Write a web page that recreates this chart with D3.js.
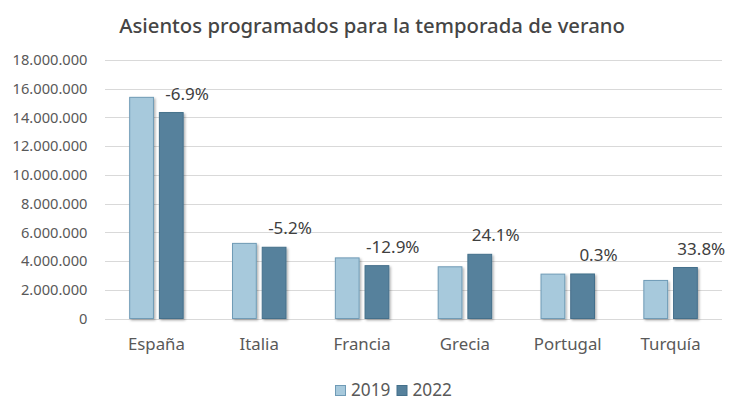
<!DOCTYPE html>
<html><head><meta charset="utf-8">
<script src="https://cdn.jsdelivr.net/npm/d3@7"></script>
<style>body{margin:0;background:#fff}svg{display:block}</style>
</head><body>
<svg id="c" width="740" height="410"></svg>
<script>
const categories = ["España","Italia","Francia","Grecia","Portugal","Turquía"];
const seriesNames = ["2019","2022"];
const values2019 = [15400000, 5230000, 4220000, 3600000, 3090000, 2650000];
const values2022 = [14340000, 4960000, 3680000, 4470000, 3100000, 3550000];
const changeLabels = ["-6.9%","-5.2%","-12.9%","24.1%","0.3%","33.8%"];
const yTicks = [0,2000000,4000000,6000000,8000000,10000000,12000000,14000000,16000000,18000000];
const title = "Asientos programados para la temporada de verano";

const colors = {"2019":"#a7c9dc","2022":"#56819c"};
const strokes = {"2019":"#6f9bb6","2022":"#44708b"};
const font = "Noto Sans, sans-serif";

const svg = d3.select("#c");
const defs = svg.append("defs");
const f = defs.append("filter").attr("id","sh").attr("x","-20%").attr("y","-20%").attr("width","150%").attr("height","150%");
f.append("feDropShadow").attr("dx",1.5).attr("dy",1.5).attr("stdDeviation",1.2).attr("flood-color","#000").attr("flood-opacity",0.3);

// scale a selection's font-size so that the reference text reaches a target width
function fit(sel, refNode, target) {
  const fs = parseFloat(d3.select(refNode).attr("font-size"));
  const w = refNode.getComputedTextLength();
  if (w > 0) sel.attr("font-size", fs * target / w);
}

const m = {left:105, right:722, top:60, bottom:318.5};
const y = d3.scaleLinear().domain([0,18000000]).range([m.bottom, m.top]);
const x0 = d3.scaleBand().domain(categories).range([m.left, m.right]).paddingInner(0.48).paddingOuter(0.24);
const x1 = d3.scaleBand().domain(seriesNames).range([0, x0.bandwidth()]).paddingInner(0.2);

const fmt = v => d3.format(",")(v).replace(/,/g,".");

// gridlines
svg.append("g").selectAll("line").data(yTicks).join("line")
  .attr("x1", m.left).attr("x2", m.right)
  .attr("y1", d => Math.round(y(d))+0.5).attr("y2", d => Math.round(y(d))+0.5)
  .attr("stroke", "#d9d9d9").attr("stroke-width", 1.2);

// y axis labels
const yAxis = d3.axisLeft(y).tickValues(yTicks).tickFormat(fmt).tickSize(0).tickPadding(0);
const ya = svg.append("g").attr("transform", `translate(87.5,0)`).call(yAxis);
ya.select(".domain").remove();
const yt = ya.selectAll("text").attr("font-family", font).attr("font-size", 13).attr("fill", "#595959");
fit(yt, yt.filter(d => d === 18000000).node(), 75);

// x axis labels
const xAxis = d3.axisBottom(x0).tickSize(0).tickPadding(0);
const xa = svg.append("g").attr("transform", `translate(0,${m.bottom+20})`).call(xAxis);
xa.select(".domain").remove();
const xt = xa.selectAll("text").attr("font-family", font).attr("font-size", 14).attr("fill", "#595959");
fit(xt, xt.filter(d => d === "España").node(), 57);

// bars
const rows = categories.map((c,i) => ({cat:c, vals:[{s:"2019",v:values2019[i]},{s:"2022",v:values2022[i]}], lab:changeLabels[i], v22:values2022[i]}));
const g = svg.append("g").selectAll("g").data(rows).join("g")
  .attr("transform", d => `translate(${x0(d.cat)},0)`);
g.selectAll("rect").data(d => d.vals).join("rect")
  .attr("x", d => x1(d.s)).attr("width", x1.bandwidth())
  .attr("y", d => y(d.v)).attr("height", d => y(0) - y(d.v))
  .attr("fill", d => colors[d.s]).attr("stroke", d => strokes[d.s]).attr("stroke-width", 1)
  .attr("filter", "url(#sh)");

// change labels
const cl = svg.append("g").selectAll("text").data(rows).join("text")
  .attr("x", d => x0(d.cat) + x1("2022") + x1.bandwidth() + 4)
  .attr("y", d => y(d.v22) - 13)
  .attr("text-anchor", "middle")
  .attr("font-family", font).attr("font-size", 14.5).attr("fill", "#404040")
  .text(d => d.lab);
fit(cl, cl.filter(d => d.lab === "33.8%").node(), 48);

// title
const tt = svg.append("text").attr("x", 372).attr("y", 33).attr("text-anchor","middle")
  .attr("font-family", font).attr("font-size", 19).attr("font-weight", 500).attr("fill", "#454545").text(title);
fit(tt, tt.node(), 506);

// legend
const leg = svg.append("g").attr("transform","translate(335,385)");
const li = leg.selectAll("g").data(seriesNames).join("g").attr("transform",(d,i)=>`translate(${i*61.5},0)`);
li.append("rect").attr("x",0.5).attr("y",0.5).attr("width",10).attr("height",10).attr("fill",d=>colors[d]).attr("stroke",d=>strokes[d]);
const lt = li.append("text").attr("x",16).attr("y",11).attr("font-family",font).attr("font-size",14).attr("fill","#595959").text(d=>d);
fit(lt, lt.node(), 39.5);
</script>
</body></html>
